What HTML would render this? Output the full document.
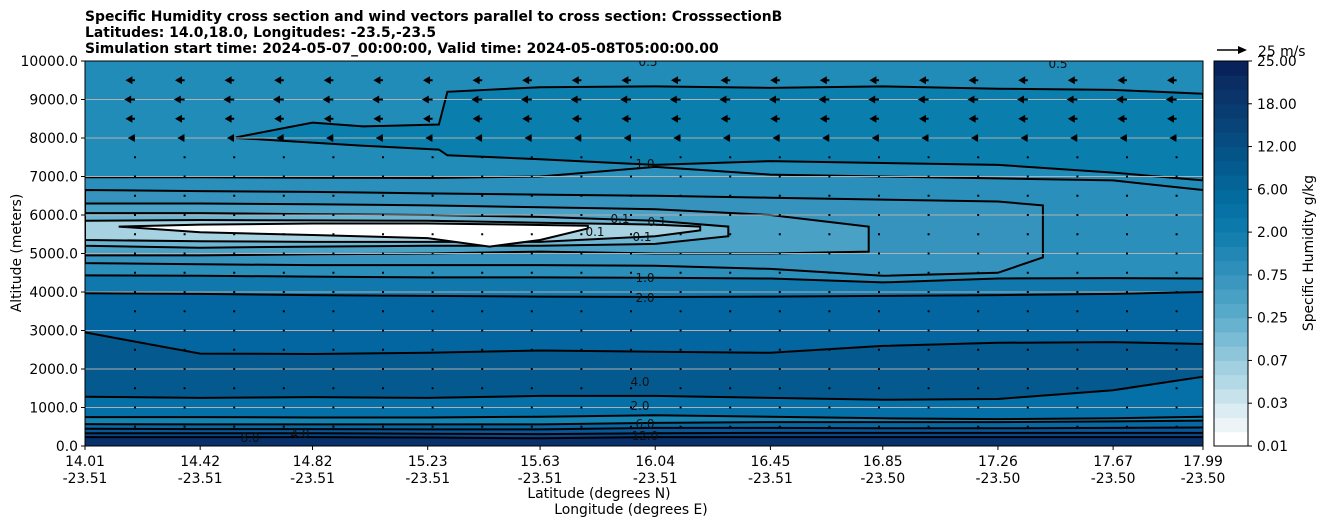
<!DOCTYPE html>
<html><head><meta charset="utf-8"><style>
body{margin:0;background:#fff;}
svg text{font-family:"DejaVu Sans","Liberation Sans",sans-serif;}
</style></head><body>
<svg id="chart" width="1326" height="526" xmlns="http://www.w3.org/2000/svg">
<g font-weight="bold" font-size="13.9">
<text x="85" y="21">Specific Humidity cross section and wind vectors parallel to cross section: CrosssectionB</text>
<text x="85" y="37">Latitudes: 14.0,18.0, Longitudes: -23.5,-23.5</text>
<text x="85" y="53">Simulation start time: 2024-05-07_00:00:00, Valid time: 2024-05-08T05:00:00.00</text>
</g>
<defs><clipPath id="pc"><rect x="85" y="61" width="1118" height="385"/></clipPath></defs>
<g id="plot" clip-path="url(#pc)"></g>
<g id="axes"></g>
</svg>
<script>
const lats=[14.01,14.42,14.82,15.23,15.63,16.04,16.45,16.85,17.26,17.67,17.99];
const lons=[-23.51,-23.51,-23.51,-23.51,-23.51,-23.51,-23.51,-23.50,-23.50,-23.50,-23.50];
const s1=[230,230,230,220,200,230,230,230,230,230,230];
const s2=[330,330,330,320,310,330,340,340,340,340,340];
const s3=[450,440,440,430,430,470,470,460,460,470,480];
const s4=[570,560,560,560,560,600,620,620,620,640,660];
const s5=[750,750,740,740,760,800,760,720,700,720,760];
const s6=[1280,1250,1270,1250,1300,1300,1250,1200,1220,1450,1800];
const s7=[2950,2400,2390,2420,2480,2450,2420,2600,2680,2700,2650];
const s8=[3970,3950,3920,3900,3880,3870,3880,3900,3920,3950,4000];
const s9=[4430,4420,4400,4380,4380,4370,4350,4250,4350,4360,4350];
const bandColors=["#08306b","#08468a","#07579a","#0669a3","#1485b3","#0570a8","#045a8f","#0466a0","#1178ad"];
const r1Lats=[14.01,14.42,14.82,15.23,15.63,16.04,16.45,16.85,17.26,17.67,17.99];
const r1Top=[6980,6980,6970,6960,7000,7250,7050,7000,6950,6900,6650];
const r2Lats=[14.01,14.42,14.82,15.23,15.63,16.04,16.45,16.85,17.26,17.42];
const r2Top=[6650,6620,6600,6560,6530,6500,6450,6400,6350,6250];
const r2Bot=[4750,4720,4700,4700,4700,4680,4600,4420,4500,4900];
const r3Lats=[14.01,14.42,14.82,15.23,15.63,16.04,16.45,16.8];
const r3Top=[6300,6300,6280,6250,6200,6150,6000,5700];
const r3Bot=[4950,4950,4980,5000,5050,5000,5000,5050];
const r4Lats=[14.01,14.42,14.82,15.23,15.63,16.04,16.3];
const r4Top=[6050,6050,6020,6000,5950,5850,5700];
const r4Bot=[5200,5150,5180,5200,5200,5250,5450];
const r5Lats=[14.01,14.42,14.82,15.23,15.63,16.04,16.2];
const r5Top=[5850,5870,5860,5850,5800,5750,5700];
const r5Bot=[5350,5320,5300,5300,5300,5450,5600];
const coreLats=[14.13,14.42,14.82,15.23,15.45,15.63,15.8];
const coreTop=[5700,5750,5780,5780,5760,5740,5720];
const coreBot=[5700,5550,5480,5400,5180,5350,5650];
const ringColors=["#2a8fba","#3593bd","#4aa1c6","#6cb6d3","#a6d2e2","#ffffff"];
const mLats=[14.55,14.82,15.0,15.27,15.3,15.63,16.04,16.45,16.85,17.26,17.67,17.99];
const mTop=[8020,8400,8300,8350,9200,9320,9340,9300,9340,9280,9250,9150];
const mBot=[8000,7880,7800,7700,7550,7450,7300,7400,7350,7300,7100,6900];
const windAlts=[500,1000,1500,2000,2500,3000,3500,4000,4500,5000,5500,6000,6500,7000,7500,8000,8500,9000,9500];
const windU=[-0.5,-0.5,-0.5,-0.5,-0.5,-0.5,-0.5,-0.5,-0.5,-0.5,-0.5,-0.5,-0.5,-0.5,-1.5,-6,-8,-9,-8];
const yTicks=[0,1000,2000,3000,4000,5000,6000,7000,8000,9000,10000];
const cbLabels=["0.01","0.03","0.07","0.25","0.75","2.00","6.00","12.00","18.00","25.00"];
const cbColors=["#ffffff","#edf4f8","#dcecf3","#c8e2ec","#b4d9e6","#a2d0e1","#8dc5da","#7abcd5","#67b2cf","#57a9ca","#48a0c4","#3b97bf","#2e8fba","#2387b5","#1580b0","#0c79ab","#0672a6","#046b9f","#046397","#045b8f","#055487","#064c80","#084478","#093c71","#0a346a","#0a2d63","#08235a"];

const NS="http://www.w3.org/2000/svg";
const X=l=>85+(l-14.01)/3.98*1118;
const Y=a=>446-a*0.0385;
const plot=document.getElementById('plot'), axes=document.getElementById('axes');
function mk(tag,attrs,parent){const e=document.createElementNS(NS,tag);for(const k in attrs)e.setAttribute(k,attrs[k]);parent.appendChild(e);return e;}
const pts=(la,al)=>la.map((l,i)=>X(l).toFixed(1)+','+Y(al[i]).toFixed(1));
const LW=2;

let bg=mk('rect',{x:85,y:61,width:1118,height:385,fill:'#228cb8'},plot);


let mp=mk('polygon',{points:pts(mLats,mTop).concat(pts(mLats,mBot).reverse()).join(' '),fill:'#0a7eac',stroke:'#000','stroke-width':LW},plot);


const zero=lats.map(()=>0);
const r1Bot=s9;
const rings=[[r1Lats,r1Top,r1Bot],[r2Lats,r2Top,r2Bot],[r3Lats,r3Top,r3Bot],[r4Lats,r4Top,r4Bot],[r5Lats,r5Top,r5Bot],[coreLats,coreTop,coreBot]];
rings.forEach((r,i)=>{
  const p=pts(r[0],r[1]).concat(pts(r[0],r[2]).reverse());
  const g=mk('polygon',{points:p.join(' '),fill:ringColors[i],stroke:i==0?'none':'#000','stroke-width':LW},plot);
  
  
});
let tl=mk('polyline',{points:pts(r1Lats,r1Top).join(' '),fill:'none',stroke:'#000','stroke-width':LW},plot);


const surf=[zero,s1,s2,s3,s4,s5,s6,s7,s8,s9];
for(let i=0;i<surf.length-1;i++){
  const p=pts(lats,surf[i+1]).concat(pts(lats,surf[i]).reverse());
  const b=mk('polygon',{points:p.join(' '),fill:bandColors[i]},plot);
  
  
}
yTicks.forEach(t=>{const l=mk('line',{x1:85,x2:1203,y1:Y(t),y2:Y(t),stroke:'#b0b0b0','stroke-width':1},plot);

});
for(let i=1;i<surf.length;i++){
  const c=mk('polyline',{points:pts(lats,surf[i]).join(' '),fill:'none',stroke:'#000','stroke-width':LW},plot);
  
  
}
[[645,168,'1.0'],[645,282,'1.0'],[645,302,'2.0'],[640,386,'4.0'],[640,410,'2.0'],[250,442,'8.0'],[300,438,'4.0'],[645,440,'12.0'],[645,428,'6.0'],[620,223,'0.1'],[657,226,'0.1'],[595,236,'0.1'],[642,241,'0.1'],[1058,68,'0.5'],[648,66,'0.5']].forEach(a=>{
  const t=mk('text',{x:a[0],y:a[1],'font-size':12,'text-anchor':'middle',fill:'#111'},plot);t.textContent=a[2];
  
  
});
for(let k=0;k<22;k++){const x=135+k*49.6;
  windAlts.forEach((a,j)=>{const len=Math.abs(windU[j])*1.2, y=Y(a);
    let e;
    if(len<3){e=mk('rect',{x:x-1,y:y-1,width:2,height:2,fill:'#000'},plot);}
    else{e=mk('polygon',{points:`${x},${y-1} ${x-len+7},${y-1} ${x-len+7},${y-4} ${x-len},${y} ${x-len+7},${y+4} ${x-len+7},${y+1} ${x},${y+1}`,fill:'#000'},plot);}
    
    
  });}
let fr=mk('rect',{x:85,y:61,width:1118,height:385,fill:'none',stroke:'#000','stroke-width':1},axes);


yTicks.forEach(t=>{mk('line',{x1:81,x2:85,y1:Y(t),y2:Y(t),stroke:'#000'},axes);
  const tx=mk('text',{x:78,y:Y(t)+5,'font-size':13.9,'text-anchor':'end'},axes);tx.textContent=t.toFixed(1);
  
  });
lats.forEach((l,i)=>{const x=X(l);mk('line',{x1:x,x2:x,y1:446,y2:450,stroke:'#000'},axes);
  const a=mk('text',{x:x,y:466,'font-size':13.9,'text-anchor':'middle'},axes);a.textContent=l.toFixed(2);
  
  
  const b=mk('text',{x:x,y:483,'font-size':13.9,'text-anchor':'middle'},axes);b.textContent=lons[i].toFixed(2);
  
  });
let xl=mk('text',{x:599,y:498,'font-size':13.9,'text-anchor':'middle'},axes);xl.textContent='Latitude (degrees N)';


let xl2=mk('text',{x:631,y:514,'font-size':13.9,'text-anchor':'middle'},axes);xl2.textContent='Longitude (degrees E)';


let yl=mk('text',{x:0,y:0,'font-size':13.9,'text-anchor':'middle',transform:'translate(21,253) rotate(-90)'},axes);yl.textContent='Altitude (meters)';


const cbH=385/cbColors.length;
cbColors.forEach((c,i)=>{const r=mk('rect',{x:1214,y:446-(i+1)*cbH,width:34,height:cbH+0.5,fill:c},axes);
  
  });
let cf=mk('rect',{x:1214,y:61,width:34,height:385,fill:'none',stroke:'#000'},axes);


cbLabels.forEach((s,i)=>{const y=446-i*385/9;mk('line',{x1:1248,x2:1252,y1:y,y2:y,stroke:'#000'},axes);
  const t=mk('text',{x:1257,y:y+5,'font-size':13.9},axes);t.textContent=s;
  
  });
let cl=mk('text',{x:0,y:0,'font-size':13.9,'text-anchor':'middle',transform:'translate(1313,253) rotate(-90)'},axes);cl.textContent='Specific Humidity g/kg';


let ka=mk('polygon',{points:'1217,49.2 1238,49.2 1238,46 1247,50 1238,54 1238,50.8 1217,50.8',fill:'#000'},axes);


let kt=mk('text',{x:1258,y:56,'font-size':13.9},axes);kt.textContent='25 m/s';


</script>
</body></html>
